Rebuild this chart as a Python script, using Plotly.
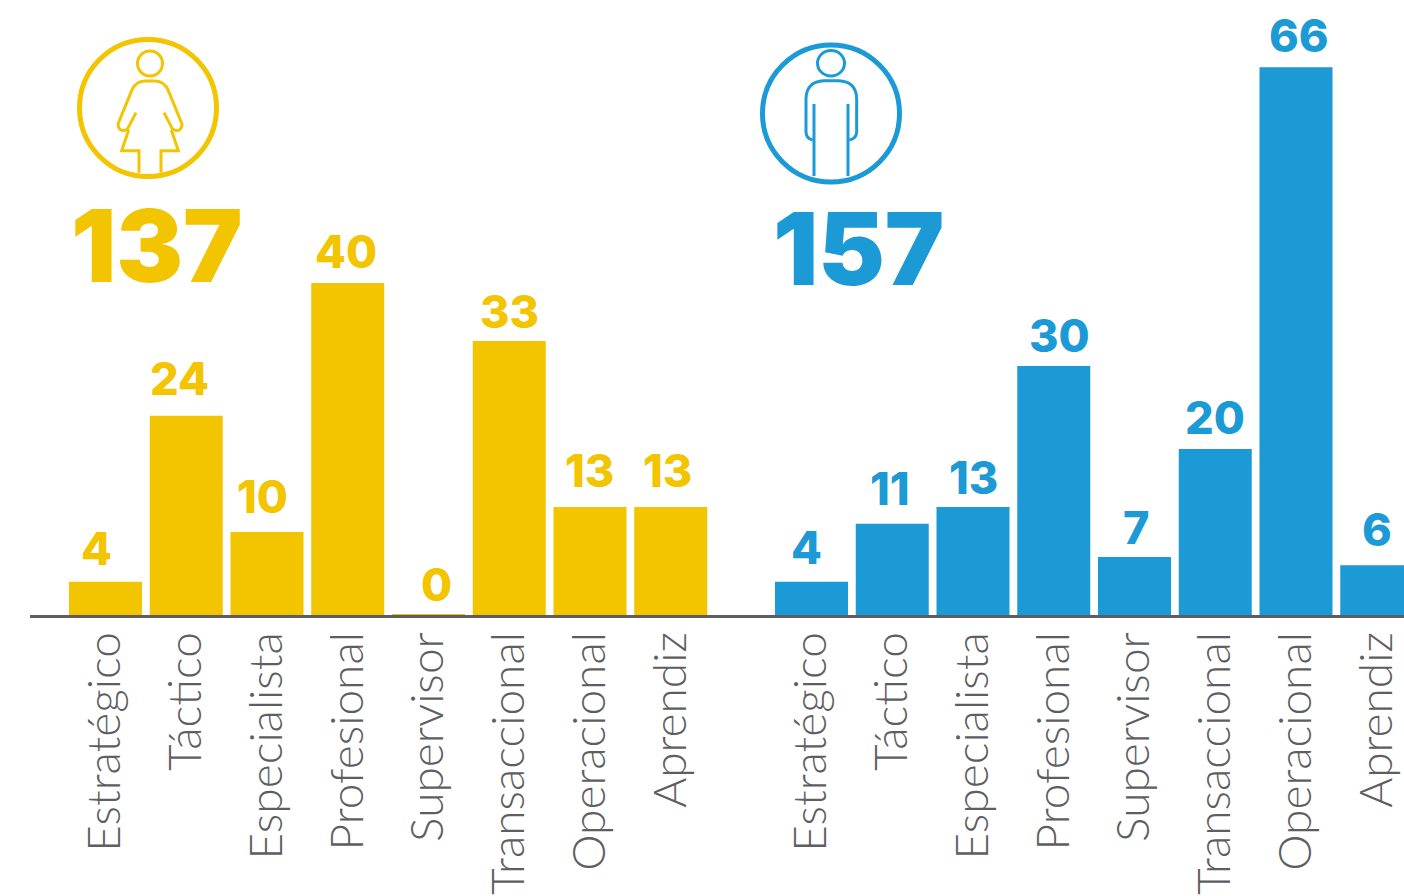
import plotly.graph_objects as go

W, H = 1404, 896
categories = ["Estratégico", "Táctico", "Especialista", "Profesional", "Supervisor", "Transaccional", "Operacional", "Aprendiz"]
women_values = [4, 24, 10, 40, 0, 33, 13, 13]
men_values = [4, 11, 13, 30, 7, 20, 66, 6]
women_total = "137"
men_total = "157"

YELLOW = "#f2c500"
BLUE = "#1c9ad6"
GREY = "#5e5e62"

fx = lambda px: px / W
fy = lambda py: 1 - py / H

def path(cmds):
    out = []
    for c in cmds:
        if isinstance(c, str):
            out.append(c)
        else:
            out.append(f"{fx(c[0]):.5f},{fy(c[1]):.5f}")
    return " ".join(out)

def z(ox, oy, a, b):
    return (ox + a / 3, oy + b / 3)

def circle(cx, cy, r, color, width):
    return dict(type="circle", xref="paper", yref="paper", x0=fx(cx - r), x1=fx(cx + r),
                y0=fy(cy + r), y1=fy(cy - r), line=dict(color=color, width=width), fillcolor="rgba(0,0,0,0)")

def stroke(cmds, color, width=3):
    return dict(type="path", xref="paper", yref="paper", path=path(cmds),
                line=dict(color=color, width=width), fillcolor="rgba(0,0,0,0)")

f = lambda a, b: z(60, 20, a, b)
m = lambda a, b: z(750, 30, a, b)

shapes = [
    circle(148, 108, 68.5, YELLOW, 5),
    circle(150, 63.5, 12.5, YELLOW, 3),
    stroke(["M", f(228, 278), "L", f(202, 328), "Q", f(176, 340), f(174, 312), "L", f(215, 212),
            "Q", f(226, 184), f(255, 183), "L", f(285, 183), "Q", f(314, 184), f(325, 212),
            "L", f(366, 312), "Q", f(364, 340), f(338, 328), "L", f(312, 278)], YELLOW),
    stroke(["M", f(206, 330), "L", f(185, 392), "L", f(237, 392), "L", f(237, 458)], YELLOW),
    stroke(["M", f(334, 330), "L", f(355, 392), "L", f(303, 392), "L", f(303, 458)], YELLOW),
    circle(831, 113.5, 68.5, BLUE, 5),
    dict(type="circle", xref="paper", yref="paper", x0=fx(817.5), x1=fx(844.5), y0=fy(76), y1=fy(50.5),
         line=dict(color=BLUE, width=3), fillcolor="rgba(0,0,0,0)"),
    stroke(["M", m(192, 222), "L", m(192, 438)], BLUE),
    stroke(["M", m(294, 222), "L", m(294, 438)], BLUE),
    stroke(["M", m(188, 330), "Q", m(168, 326), m(168, 305), "L", m(168, 205), "Q", m(170, 154), m(222, 152),
            "L", m(266, 152), "Q", m(318, 154), m(320, 205), "L", m(320, 305), "Q", m(320, 326), m(298, 330)], BLUE),
]

STEP = 80.75
UNIT = 8.3
BASE = 615

def axis(first_center, left, right):
    return dict(domain=[fx(left), fx(right)], anchor="y", automargin=False,
                range=[(left - first_center) / STEP, (right - first_center) / STEP],
                type="category", categoryorder="array", categoryarray=categories,
                showgrid=False, zeroline=False, ticks="", showline=True, linecolor=GREY, linewidth=2.5,
                tickangle=-90, ticklabelstandoff=-4,
                tickfont=dict(family="Lato Light, Lato", size=46, color=GREY))

fig = go.Figure()
fig.add_bar(x=categories, y=women_values, marker=dict(color=YELLOW, line=dict(color=YELLOW, width=[0, 0, 0, 0, 2, 0, 0, 0])),
            xaxis="x", yaxis="y", width=0.904, hoverinfo="skip")
fig.add_bar(x=categories, y=men_values, marker=dict(color=BLUE, line=dict(width=0)),
            xaxis="x2", yaxis="y", width=0.904, hoverinfo="skip")

annotations = []
label_nudge = {
    "x": ([-9, -7, -5, -2, 8, 0, -1, -3], [-5, -2, 0, 6, 1, 0, 3, 0]),
    "y": ([33, 37, 36, 32, 31, 30, 37, 37], [34, 35, 30, 31, 29, 32, 32, 36]),
}
for idx, (axname, vals, color) in enumerate([("x", women_values, YELLOW), ("x2", men_values, BLUE)]):
    for i, (c, v) in enumerate(zip(categories, vals)):
        annotations.append(dict(x=c, y=v, xref=axname, yref="y", text=str(v), showarrow=False,
                                xanchor="center", yanchor="middle",
                                xshift=label_nudge["x"][idx][i], yshift=label_nudge["y"][idx][i],
                                font=dict(family="Inter", size=45, color=color, weight=800)))

annotations += [
    dict(x=fx(157), y=fy(245), xref="paper", yref="paper", text=women_total, showarrow=False,
         xanchor="center", yanchor="middle", font=dict(family="Inter", size=100, color=YELLOW, weight=900)),
    dict(x=fx(858), y=fy(248), xref="paper", yref="paper", text=men_total, showarrow=False,
         xanchor="center", yanchor="middle", font=dict(family="Inter", size=100, color=BLUE, weight=900)),
]

fig.update_layout(
    width=W, height=H, autosize=False,
    margin=dict(l=0, r=0, t=0, b=0), paper_bgcolor="white", plot_bgcolor="white",
    showlegend=False, barmode="overlay",
    xaxis=axis(105.5, 30, 740),
    xaxis2=axis(811.5, 740, 1404),
    yaxis=dict(domain=[fy(BASE), 1], range=[0, BASE / UNIT], visible=False, automargin=False),
    shapes=shapes, annotations=annotations,
)
fig.write_html("out.html", config={"displayModeBar": False},
               post_script="document.body.style.margin='0';document.body.style.overflow='hidden';")
